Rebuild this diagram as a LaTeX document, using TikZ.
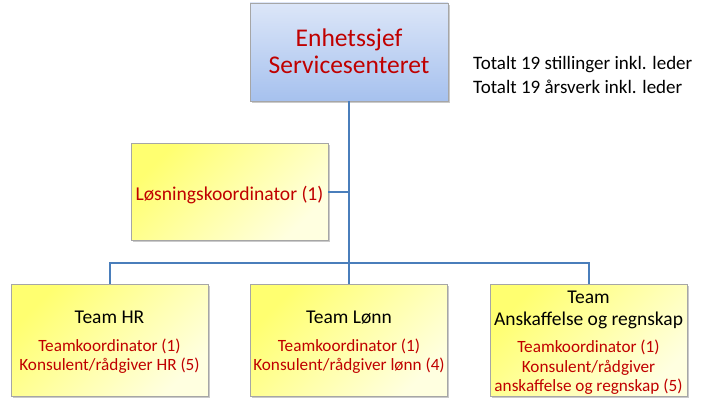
\documentclass[tikz,border=0pt]{standalone}
\usepackage{fontspec}
\setmainfont{Carlito}
\usetikzlibrary{shadows}
\definecolor{conncol}{HTML}{4A7EBB}
\definecolor{redtxt}{HTML}{C00000}
\definecolor{blueA}{HTML}{DCE6F8}
\definecolor{blueB}{HTML}{A6C1EE}
\definecolor{yelA}{HTML}{FFFF70}
\definecolor{yelB}{HTML}{FFFFE0}
\definecolor{boxline}{HTML}{A6A6A6}
\tikzset{
  box/.style={draw=boxline, line width=0.8pt, inner sep=0pt,
    drop shadow={shadow xshift=1.5pt, shadow yshift=-2pt, opacity=0.35, fill=black!60}},
  bluebox/.style={box, top color=blueA, bottom color=blueB},
  yelbox/.style={box, top color=yelA, bottom color=yelB, shading angle=45},
  conn/.style={draw=conncol, line width=2pt},
  ttl/.style={anchor=base, inner sep=0pt, font=\fontsize{19.5}{23}\selectfont},
  sub/.style={anchor=base, inner sep=0pt, text=redtxt, font=\fontsize{17.2}{20}\selectfont},
}
\begin{document}
\begin{tikzpicture}[x=1pt,y=-1pt]
\useasboundingbox (0,0) rectangle (708,412);
% boxes
\node[bluebox, minimum width=198pt, minimum height=98pt] (topbox) at (349,52) {};
\node[yelbox, minimum width=197pt, minimum height=97pt] (los) at (229.5,191.5) {};
\node[yelbox, minimum width=197pt, minimum height=112pt] (hr) at (109.5,340) {};
\node[yelbox, minimum width=197pt, minimum height=112pt] (lonn) at (349,340) {};
\node[yelbox, minimum width=197pt, minimum height=112pt] (ansk) at (588.5,340) {};
% connectors
\coordinate (bus) at (349,263);
\draw[conn] (topbox.south) -- (lonn.north);
\draw[conn] (hr.north) |- (bus) -| (ansk.north);
\draw[conn] (los.east) -- (los.east -| topbox.south);
% texts
\node[anchor=base, inner sep=0pt, text=redtxt, font=\fontsize{25.5}{28}\selectfont] (t1) at (349,46) {Enhetssjef};
\node[anchor=base, inner sep=0pt, text=redtxt, font=\fontsize{25.5}{28}\selectfont] (t2) at (349,74) {Servicesenteret};
\node[anchor=base west, inner sep=0pt, font=\fontsize{19}{23}\selectfont] (tot1) at (473,69) {Totalt 19 stillinger inkl. leder};
\node[anchor=base west, inner sep=0pt, font=\fontsize{19}{23}\selectfont] (tot2) at (473,93) {Totalt 19 årsverk inkl. leder};
\node[anchor=base, inner sep=0pt, text=redtxt, font=\fontsize{19.6}{23}\selectfont] (lost) at (229.5,200) {Løsningskoordinator (1)};
\node[ttl] (hr1) at (109.5,323) {Team HR};
\node[sub] (hr2) at (109.5,351) {Teamkoordinator (1)};
\node[sub] (hr3) at (109.5,370) {Konsulent/rådgiver HR (5)};
\node[ttl] (l1) at (349,323) {Team Lønn};
\node[sub] (l2) at (349,351) {Teamkoordinator (1)};
\node[sub] (l3) at (349,370) {Konsulent/rådgiver lønn (4)};
\node[ttl] (a1) at (588.5,303) {Team};
\node[ttl] (a2) at (588.5,325) {Anskaffelse og regnskap};
\node[sub] (a3) at (588.5,352) {Teamkoordinator (1)};
\node[sub] (a4) at (588.5,372) {Konsulent/rådgiver};
\node[sub] (a5) at (588.5,391) {anskaffelse og regnskap (5)};
\end{tikzpicture}
\end{document}
